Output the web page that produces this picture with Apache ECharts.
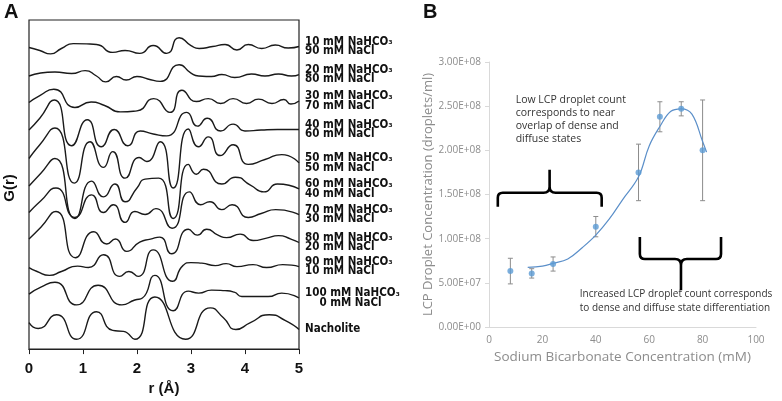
<!DOCTYPE html>
<html>
<head>
<meta charset="utf-8">
<script src="https://cdn.jsdelivr.net/npm/echarts/dist/echarts.min.js"></script>
<style>
html, body { margin: 0; padding: 0; background: #fff; }
#main { width: 782px; height: 401px; }
</style>
</head>
<body>
<div id="main"></div>
<script>
// ---- panel A : G(r) curves, [r (Å), deviation from the curve's own baseline] ----
var g10 = [[0,0],[0.2,-3],[0.4,-6.5],[0.6,-1],[0.82,4],[1.25,3],[1.55,-5],[1.78,-3],[2.05,-6],[2.3,2],[2.55,-6],[2.78,10],[3.0,2],[3.15,-1],[3.4,1],[3.63,3],[3.85,-2.5],[4.06,3],[4.31,-1],[4.56,2.5],[4.8,-0.5],[5,1]];
var g20 = [[0,0],[0.48,4],[0.79,2.5],[1.04,5.5],[1.25,0],[1.42,-6],[1.62,-0.5],[1.8,-4],[2.0,-0.5],[2.2,-3],[2.43,-5.5],[2.78,11.5],[3.0,3],[3.14,0],[3.38,-0.5],[3.57,1.5],[3.81,-1.5],[4.12,2],[4.37,0],[4.62,2],[4.86,0],[5,1.5]];
var g30 = [[0,0],[0.2,7],[0.46,13.5],[0.85,-5],[1.15,0.5],[1.4,-3],[1.69,-9.5],[2.0,-8.5],[2.31,4],[2.61,-10],[2.83,12.5],[3.1,1],[3.32,4],[3.55,-1],[3.78,4],[4.03,-1],[4.25,3.5],[4.5,-1],[4.72,3],[4.85,-1.5],[5,1.5]];
var g40 = [[0,0],[0.2,12],[0.47,30.5],[0.79,-16],[1.08,10.5],[1.34,-17],[1.58,0.5],[1.83,-16],[2.06,-1],[2.3,-4],[2.55,-6],[2.92,18],[3.12,4],[3.3,12],[3.55,-1],[3.78,6],[4.0,-1],[4.3,0],[4.6,0.5],[5,0.5]];
var g50 = [[0,0],[0.2,14],[0.48,31],[0.84,-25],[1.13,17],[1.38,-9],[1.55,7],[1.78,-20],[2.04,1],[2.18,-3],[2.43,17],[2.67,-30],[2.95,30],[3.14,12],[3.32,22],[3.54,3],[3.78,14],[4.06,-6],[4.37,-1],[4.68,4],[5,-4.5]];
var g60 = [[0,0],[0.22,13],[0.48,28],[0.85,-33],[1.16,5],[1.38,-11],[1.59,2],[1.78,-16],[2.0,-2],[2.15,7],[2.4,8],[2.67,-33],[2.95,22],[3.1,12],[3.23,17],[3.57,2],[3.82,9],[4.1,1],[4.35,-6],[4.6,2],[5,-3]];
var g70 = [[0,0],[0.22,12],[0.5,25],[0.85,-5],[1.16,18],[1.38,0],[1.56,8],[1.78,-10],[1.96,1],[2.15,-2],[2.35,4],[2.65,-16],[2.97,21],[3.18,8],[3.35,11],[3.57,3],[3.76,8],[4.06,-5],[4.3,-1],[4.57,3],[5,-2]];
var g80 = [[0,0],[0.22,12],[0.5,28],[0.86,-19],[1.2,7.5],[1.44,-5],[1.6,0],[1.81,-12.5],[2.05,-3],[2.25,0],[2.42,2],[2.64,-15],[2.95,10],[3.12,4],[3.29,10],[3.5,4],[3.66,1.5],[3.91,5],[4.15,-1.5],[4.4,1],[4.62,3.5],[4.85,0],[5,-3.5]];
var g90 = [[0,0],[0.15,-4],[0.38,-8],[0.6,-4],[0.9,1.5],[1.1,0],[1.38,13],[1.68,-9],[1.85,-4],[2.02,-9],[2.3,18],[2.66,-14],[2.85,2],[3.0,5],[3.2,4.5],[3.45,2],[3.65,4],[3.85,1],[4.15,3],[4.4,0],[4.7,3],[5,1]];
var g100 = [[0,0],[0.22,7],[0.48,12],[0.88,-11],[1.28,9],[1.72,-11],[1.96,-6],[2.1,-4],[2.33,19],[2.67,-17],[2.95,3],[3.14,1],[3.38,4],[3.63,3.5],[3.8,2],[3.94,-2.5],[4.2,-2.5],[4.43,-2.5],[4.68,1],[5,-4]];
var gNacholite = [[0,0],[0.17,-6],[0.51,8],[0.88,-17],[1.25,11],[1.55,-8],[1.75,-9],[1.96,-17],[2.33,26],[2.9,-17],[3.36,15],[3.6,5],[3.83,-7],[4.1,0],[4.45,8],[4.75,2],[5,-7]];

var curves = [g10, g20, g30, g40, g50, g60, g70, g80, g90, g100, gNacholite];
var offsets = [307, 278, 251, 223, 194, 166, 139, 112, 83, 56, 27];
var curveLabels = [
  '{a|10 mM NaHCO}{s|₃}\n{a|90 mM NaCl}',
  '{a|20 mM NaHCO}{s|₃}\n{a|80 mM NaCl}',
  '{a|30 mM NaHCO}{s|₃}\n{a|70 mM NaCl}',
  '{a|40 mM NaHCO}{s|₃}\n{a|60 mM NaCl}',
  '{a|50 mM NaHCO}{s|₃}\n{a|50 mM NaCl}',
  '{a|60 mM NaHCO}{s|₃}\n{a|40 mM NaCl}',
  '{a|70 mM NaHCO}{s|₃}\n{a|30 mM NaCl}',
  '{a|80 mM NaHCO}{s|₃}\n{a|20 mM NaCl}',
  '{a|90 mM NaHCO}{s|₃}\n{a|10 mM NaCl}',
  '{a|100 mM NaHCO}{s|₃}\n{a|    0 mM NaCl}',
  '{a|Nacholite}'
];
var rTicks = [0, 5, 1];

// ---- panel B : droplet counts ----
var bicarb = [8, 16, 24, 40, 56, 64, 72, 80];
var droplets = [6.33e7, 6.07e7, 7.13e7, 1.136e8, 1.75e8, 2.38e8, 2.47e8, 2.0e8];
var dropletErr = [1.45e7, 0.53e7, 0.8e7, 1.15e7, 3.2e7, 1.7e7, 0.8e7, 5.7e7];
var trendX = [14.5, 20, 24, 29.5, 35, 40, 45, 50, 56, 60, 64, 68, 72, 76, 80, 81.5];
var trendY = [6.75e7, 6.9e7, 7.2e7, 7.7e7, 9.0e7, 1.04e8, 1.22e8, 1.44e8, 1.70e8, 2.05e8, 2.27e8, 2.44e8, 2.47e8, 2.41e8, 2.10e8, 1.98e8];

// brace anchors in panel B axis units: [x left, x right, x centre, y leg end, y bar, y tip]
var braces = [
  [3.3, 42.2, 22.7, 1.36e8, 1.52e8, 1.78e8],
  [56.5, 86.9, 71.9, 1.02e8, 7.7e7, 4.17e7]
];
var noteLow = { x: 10, y: 2.35e8, text: 'Low LCP droplet count\ncorresponds to near\noverlap of dense and\ndiffuse states' };
var noteHigh = { x: 34, y: 2.95e7, text: 'Increased LCP droplet count corresponds\nto dense and diffuse state differentiation' };

var labelFont = "'DejaVu Sans Condensed', 'Liberation Sans Narrow', sans-serif";
var boldFont = "'Liberation Sans', Arial, sans-serif";
var bFont = "'Open Sans', 'Noto Sans', sans-serif";

function toExp(v) {
  if (v === 0) return '0.00E+00';
  var e = Math.floor(Math.log10(v) + 1e-9);
  var m = v / Math.pow(10, e);
  return m.toFixed(2) + 'E+' + (e < 10 ? '0' + e : e);
}

function bracePath(a, e, bar, tip) {
  var yb = bar[1], s = yb < a[1] ? 1 : -1, r = 5, xc = bar[0];
  return 'M' + a[0] + ',' + a[1] +
    ' L' + a[0] + ',' + (yb + s * r) +
    ' Q' + a[0] + ',' + yb + ' ' + (a[0] + r) + ',' + yb +
    ' L' + (xc - 6) + ',' + yb +
    ' Q' + xc + ',' + yb + ' ' + xc + ',' + (yb - s * 6) +
    ' L' + xc + ',' + tip[1] +
    ' M' + xc + ',' + (yb - s * 6) +
    ' Q' + xc + ',' + yb + ' ' + (xc + 6) + ',' + yb +
    ' L' + (e[0] - r) + ',' + yb +
    ' Q' + e[0] + ',' + yb + ' ' + e[0] + ',' + (yb + s * r) +
    ' L' + e[0] + ',' + e[1];
}

var chart = echarts.init(document.getElementById('main'));

var series = [];
for (var i = 0; i < curves.length; i++) {
  var off = offsets[i];
  series.push({
    type: 'line',
    xAxisIndex: 0, yAxisIndex: 0,
    data: curves[i].map(function (p) { return [p[0], off + p[1]]; }),
    smooth: 0.6,
    showSymbol: false,
    lineStyle: { color: '#1a1a1a', width: 1.4 },
    endLabel: {
      show: true,
      distance: 6,
      formatter: curveLabels[i],
      rich: {
        a: { fontFamily: labelFont, fontWeight: 'bold', fontSize: 11.5, lineHeight: 9.5, color: '#111' },
        s: { fontFamily: 'DejaVu Sans', fontWeight: 'bold', fontSize: 10, lineHeight: 9.5, color: '#111' }
      }
    }
  });
}

series.push({
  type: 'custom',
  xAxisIndex: 1, yAxisIndex: 1,
  data: bicarb.map(function (x, k) { return [x, droplets[k] - dropletErr[k], droplets[k] + dropletErr[k]]; }),
  encode: { x: 0, y: [1, 2] },
  renderItem: function (params, api) {
    var lo = api.coord([api.value(0), api.value(1)]);
    var hi = api.coord([api.value(0), api.value(2)]);
    var w = 2.5;
    var st = { stroke: '#8c8c8c', lineWidth: 1 };
    return {
      type: 'group',
      children: [
        { type: 'line', shape: { x1: lo[0], y1: lo[1], x2: hi[0], y2: hi[1] }, style: st },
        { type: 'line', shape: { x1: lo[0] - w, y1: lo[1], x2: lo[0] + w, y2: lo[1] }, style: st },
        { type: 'line', shape: { x1: hi[0] - w, y1: hi[1], x2: hi[0] + w, y2: hi[1] }, style: st }
      ]
    };
  },
  z: 2
});
series.push({
  type: 'line',
  xAxisIndex: 1, yAxisIndex: 1,
  data: trendX.map(function (x, k) { return [x, trendY[k]]; }),
  smooth: 0.4,
  showSymbol: false,
  lineStyle: { color: '#5b8fc9', width: 1.2 },
  z: 3
});
series.push({
  type: 'scatter',
  xAxisIndex: 1, yAxisIndex: 1,
  data: bicarb.map(function (x, k) { return [x, droplets[k]]; }),
  symbolSize: 6,
  itemStyle: { color: '#5b9bd5' },
  z: 4
});
series.push({
  type: 'custom',
  xAxisIndex: 1, yAxisIndex: 1,
  data: braces,
  encode: { x: [0, 1, 2], y: [3, 4, 5] },
  clip: false,
  silent: true,
  renderItem: function (params, api) {
    var a = api.coord([api.value(0), api.value(3)]);
    var e = api.coord([api.value(1), api.value(3)]);
    var bar = api.coord([api.value(2), api.value(4)]);
    var tip = api.coord([api.value(2), api.value(5)]);
    return {
      type: 'path',
      shape: { pathData: bracePath(a, e, bar, tip) },
      style: { stroke: '#000', lineWidth: 2.6, fill: 'none' }
    };
  },
  z: 5
});

chart.setOption({
  animation: false,
  grid: [
    { left: 29, top: 20, width: 270, height: 335, show: true, borderColor: '#222', borderWidth: 1.2, backgroundColor: 'transparent' },
    { left: 489, top: 62, width: 267, height: 265 }
  ],
  xAxis: [
    {
      gridIndex: 0, type: 'value', min: rTicks[0], max: rTicks[1], interval: rTicks[2],
      axisLine: { show: true, lineStyle: { color: '#222', width: 1.2 } },
      axisTick: { show: true, length: 5, lineStyle: { color: '#222' } },
      axisLabel: { fontSize: 15, fontWeight: 'bold', color: '#111', margin: 12, fontFamily: boldFont },
      splitLine: { show: false },
      name: 'r (Å)', nameLocation: 'middle', nameGap: 29,
      nameTextStyle: { fontSize: 15, fontWeight: 'bold', color: '#111', fontFamily: boldFont }
    },
    {
      gridIndex: 1, type: 'value', min: 0, max: 100, interval: 20,
      axisLine: { show: true, lineStyle: { color: '#d9d9d9' } },
      axisTick: { show: false },
      axisLabel: { fontSize: 10, color: '#8c8c8c', margin: 8, fontFamily: bFont },
      splitLine: { show: false },
      name: 'Sodium Bicarbonate Concentration (mM)', nameLocation: 'middle', nameGap: 21,
      nameTextStyle: { fontSize: 13.5, color: '#8c8c8c', fontFamily: bFont }
    }
  ],
  yAxis: [
    { gridIndex: 0, type: 'value', min: 0, max: 335, show: false },
    {
      gridIndex: 1, type: 'value', min: 0, max: 3e8, interval: 5e7,
      axisLine: { show: true, lineStyle: { color: '#d9d9d9' } },
      axisTick: { show: true, length: 4, lineStyle: { color: '#d9d9d9' } },
      axisLabel: { fontSize: 10, color: '#8c8c8c', margin: 8, fontFamily: bFont, formatter: toExp },
      splitLine: { show: false },
      name: 'LCP Droplet Concentration (droplets/ml)', nameLocation: 'middle', nameGap: 51,
      nameTextStyle: { fontSize: 13, color: '#8c8c8c', fontFamily: bFont }
    }
  ],
  series: series
});

// panel letters, G(r) title and the two notes (notes placed through panel B's axes)
var nl = chart.convertToPixel({ gridIndex: 1 }, [noteLow.x, noteLow.y]);
var nh = chart.convertToPixel({ gridIndex: 1 }, [noteHigh.x, noteHigh.y]);
chart.setOption({
  graphic: [
    { type: 'text', x: 4, y: 2, style: { text: 'A', fontSize: 20, fontWeight: 'bold', fill: '#111', fontFamily: boldFont } },
    { type: 'text', x: 423, y: 2, style: { text: 'B', fontSize: 20, fontWeight: 'bold', fill: '#111', fontFamily: boldFont } },
    { type: 'text', x: 10, y: 188, rotation: Math.PI / 2, style: { text: 'G(r)', fontSize: 15, fontWeight: 'bold', fill: '#111', align: 'center', verticalAlign: 'middle', fontFamily: boldFont } },
    { type: 'text', x: nl[0], y: nl[1], style: { text: noteLow.text, fontSize: 10.5, lineHeight: 13.2, fill: '#333', verticalAlign: 'middle', fontFamily: bFont } },
    { type: 'text', x: nh[0], y: nh[1], style: { text: noteHigh.text, fontSize: 10, lineHeight: 13.5, fill: '#333', verticalAlign: 'middle', fontFamily: bFont } }
  ]
});
</script>
</body>
</html>
